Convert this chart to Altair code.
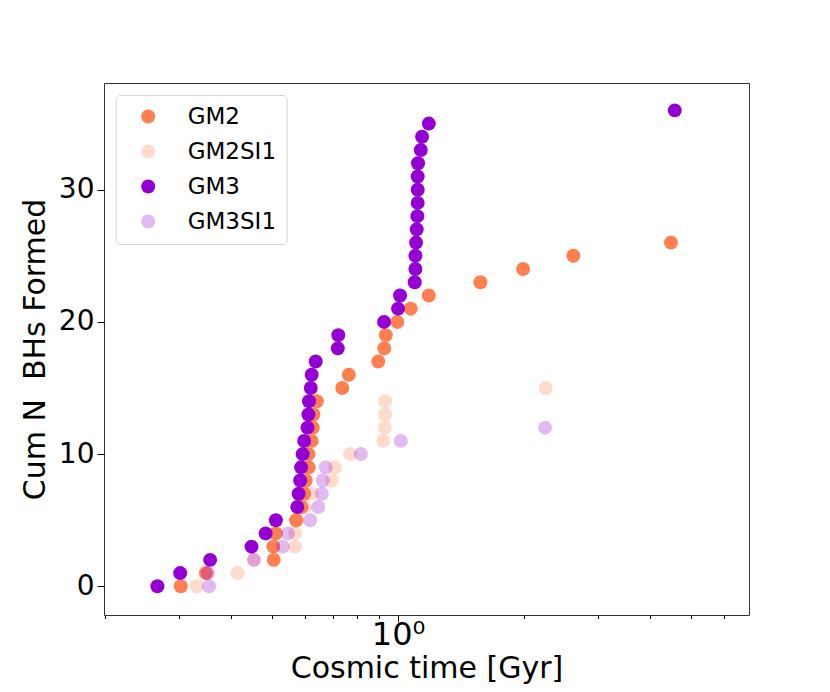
import altair as alt
import pandas as pd

# Cosmic time [Gyr] of each BH formation, and cumulative count
gm2_t = [0.303, 0.348, 0.505, 0.504, 0.511, 0.571, 0.588, 0.597, 0.602, 0.612,
         0.611, 0.622, 0.626, 0.628, 0.640, 0.736, 0.763, 0.897, 0.927, 0.935,
         0.996, 1.072, 1.184, 1.572, 1.988, 2.62, 4.48]
gm2_n = [0, 1, 2, 3, 4, 5, 6, 7, 8, 9, 10, 11, 12, 13, 14, 15, 16, 17, 18, 19,
         20, 21, 22, 23, 24, 25, 26]

gm2si1_t = [0.331, 0.414, 0.453, 0.568, 0.568, 0.575, 0.600, 0.622, 0.695, 0.707,
            0.768, 0.922, 0.931, 0.931, 0.931, 2.252]
gm2si1_n = [0, 1, 2, 3, 4, 5, 6, 7, 8, 9, 10, 11, 12, 13, 14, 15]

gm3_t = [0.2665, 0.302, 0.356, 0.447, 0.483, 0.511, 0.575, 0.579, 0.584, 0.587,
         0.592, 0.597, 0.608, 0.611, 0.613, 0.619, 0.622, 0.636, 0.718, 0.720,
         0.926, 1.000, 1.011, 1.096, 1.100, 1.100, 1.104, 1.108, 1.112, 1.114,
         1.114, 1.114, 1.116, 1.133, 1.141, 1.184, 4.575]
gm3_n = [0, 1, 2, 3, 4, 5, 6, 7, 8, 9, 10, 11, 12, 13, 14, 15, 16, 17, 18, 19,
         20, 21, 22, 23, 24, 25, 26, 27, 28, 29, 30, 31, 32, 33, 34, 35, 36]

gm3si1_t = [0.354, 0.352, 0.453, 0.531, 0.546, 0.617, 0.645, 0.658, 0.661, 0.672,
            0.815, 1.015, 2.243]
gm3si1_n = [0, 1, 2, 3, 4, 5, 6, 7, 8, 9, 10, 11, 12]

runs = ["GM2", "GM2SI1", "GM3", "GM3SI1"]
colors = ["rgb(255,127,80)", "rgba(255,127,80,0.28)",
          "rgb(148,0,211)", "rgba(148,0,211,0.27)"]

rows = []
for name, ts, ns in [("GM2", gm2_t, gm2_n), ("GM2SI1", gm2si1_t, gm2si1_n),
                     ("GM3", gm3_t, gm3_n), ("GM3SI1", gm3si1_t, gm3si1_n)]:
    for t, n in zip(ts, ns):
        rows.append({"run": name, "t": t, "n": n})
df = pd.DataFrame(rows)

x_ticks = [0.2, 0.3, 0.4, 0.5, 0.6, 0.7, 0.8, 0.9, 1, 2, 3, 4, 5, 6]
y_ticks = [0, 10, 20, 30]

chart = alt.Chart(df).mark_circle(size=195, opacity=1).encode(
    x=alt.X("t:Q",
            scale=alt.Scale(type="log", domain=[0.1987, 6.88], nice=False),
            axis=alt.Axis(values=x_ticks,
                          labelExpr="datum.value == 1 ? '10⁰' : ''",
                          tickSize={"condition": {"test": "datum.value == 1", "value": 7}, "value": 3.5},
                          labelOverlap=False, labelFlush=False,
                          grid=False, domain=False, tickColor="#000",
                          labelFontSize=32, labelPadding=-3, labelColor="#000",
                          title="Cosmic time [Gyr]", titleFontSize=30,
                          titleFontWeight="normal", titleBaseline="alphabetic",
                          titleY=62, titleColor="#000")),
    y=alt.Y("n:Q",
            scale=alt.Scale(domain=[-2.17, 38.07], nice=False, zero=False),
            axis=alt.Axis(values=y_ticks, tickSize=7, grid=False, domain=False,
                          tickColor="#000", labelFontSize=28, labelPadding=3,
                          labelColor="#000",
                          title="Cum N \u00a0BHs Formed", titleFontSize=30,
                          titleFontWeight="normal", titlePadding=8, titleColor="#000")),
    color=alt.Color("run:N", scale=alt.Scale(domain=runs, range=colors),
                    legend=alt.Legend(title=None, orient="none", legendX=11.7, legendY=12,
                                      padding=10, symbolOffset=11, labelOffset=28,
                                      rowPadding=11, symbolSize=195, symbolType="circle",
                                      labelFontSize=23, labelColor="#000",
                                      strokeColor="#d5d5d5", fillColor="white",
                                      cornerRadius=4)),
).properties(
    width=645, height=532,
    autosize=alt.AutoSizeParams(type="none"),
    padding={"left": 96, "top": 75, "right": 70, "bottom": 69},
).configure(
    font="DejaVu Sans",
).configure_view(
    stroke="#333", strokeWidth=1,
)

chart.save("out.html", embed_options={"renderer": "svg", "actions": False})
